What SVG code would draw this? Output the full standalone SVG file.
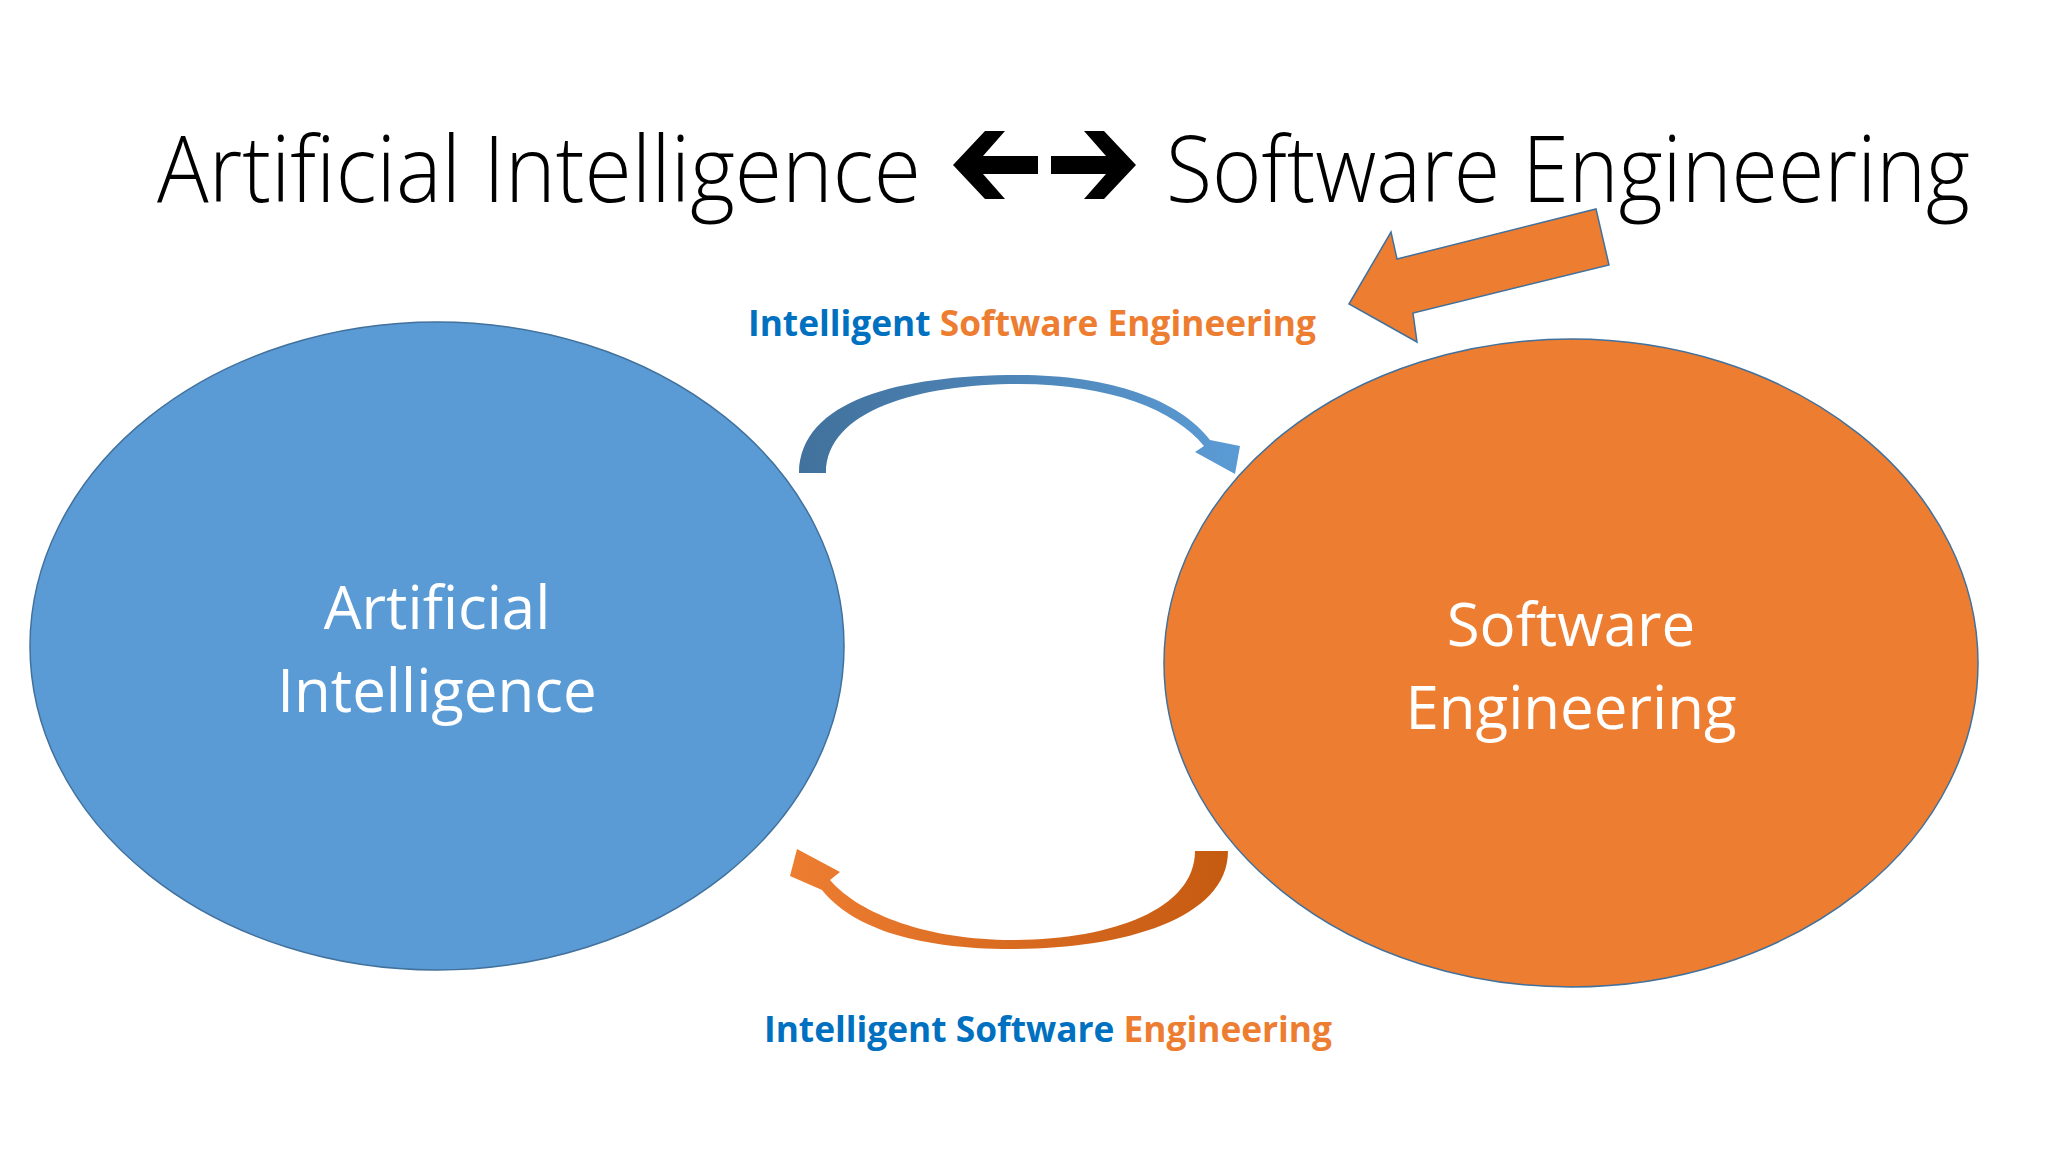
<svg xmlns="http://www.w3.org/2000/svg" width="2048" height="1152" viewBox="0 0 2048 1152">
<style>
.t{font-family:"Open Sans","Liberation Sans",sans-serif;}
.title{font-size:92px;font-weight:300;fill:#000}
.in{font-size:60px;fill:#fff;text-anchor:middle}
.lbl{font-size:36px;font-weight:700}
.b{fill:#0070C0}.o{fill:#ED7D31}
</style>
<defs>
<linearGradient id="gb" x1="0" x2="1" y1="0" y2="0"><stop offset="0" stop-color="#41719C"/><stop offset="1" stop-color="#5B9BD5"/></linearGradient>
<linearGradient id="go" x1="0" x2="1" y1="0" y2="0"><stop offset="0" stop-color="#ED7D31"/><stop offset="1" stop-color="#C55A11"/></linearGradient>
</defs>
<rect width="2048" height="1152" fill="#fff"/>
<g id="title">
<text class="t title" x="157" y="202" textLength="764" lengthAdjust="spacingAndGlyphs">Artificial Intelligence</text>
<polygon points="953,165 985,131 1005,131 983,156 1038,156 1038,174 983,174 1005,199 985,199" fill="#000"/>
<polygon points="1136,165 1104,131 1084,131 1106,156 1051,156 1051,174 1106,174 1084,199 1104,199" fill="#000"/>
<text class="t title" x="1166" y="202" textLength="804" lengthAdjust="spacingAndGlyphs">Software Engineering</text>
</g>
<g id="pointer">
<polygon points="1349,304 1391,232 1397,259 1596,209 1609,265 1413,313 1417,342" fill="#ED7D31" stroke="#41719C" stroke-width="1.5"/>
</g>
<g id="ai">
<ellipse cx="437" cy="646" rx="407" ry="324" fill="#5B9BD5" stroke="#41719C" stroke-width="1.5"/>
<text class="t in" x="437" y="629">Artificial</text>
<text class="t in" x="437" y="712">Intelligence</text>
</g>
<g id="se">
<ellipse cx="1571" cy="663" rx="407" ry="324" fill="#ED7D31" stroke="#41719C" stroke-width="1.5"/>
<text class="t in" x="1571" y="646">Software</text>
<text class="t in" x="1571" y="729">Engineering</text>
</g>
<g id="connectors">
<path d="M 799 473 C 800 400 900 375 1019 375 C 1110 375 1180 400 1210 440 L 1240 446 L 1235 474 L 1195 452 L 1204 446 C 1175 410 1110 384 1019 384 C 920 384 826 410 826 473 Z" fill="url(#gb)"/>
<path d="M 1228 851 C 1228 920 1120 949 1012 949 C 910 949 850 925 822 890 L 790 876 L 797 849 L 840 872 L 830 880 C 860 915 930 940 1012 940 C 1110 940 1195 910 1195 851 Z" fill="url(#go)"/>
</g>
<g id="labels">
<text class="t lbl" x="748" y="336" textLength="568" lengthAdjust="spacingAndGlyphs"><tspan class="b">Intelligent </tspan><tspan class="o">Software Engineering</tspan></text>
<text class="t lbl" x="764" y="1042" textLength="568" lengthAdjust="spacingAndGlyphs"><tspan class="b">Intelligent Software </tspan><tspan class="o">Engineering</tspan></text>
</g>
</svg>
